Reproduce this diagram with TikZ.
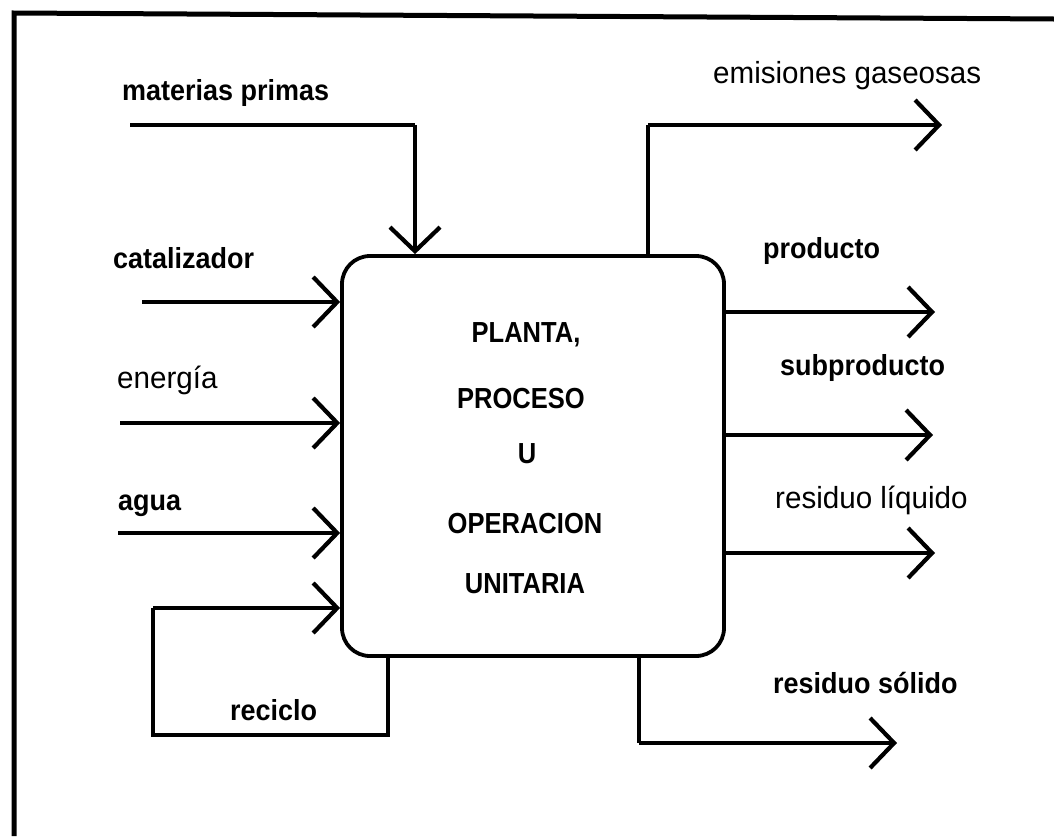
\documentclass[tikz,border=0pt]{standalone}
\usepackage{fontspec}
\setmainfont{Liberation Sans}
\newfontfamily\lblbold[FakeStretch=0.93]{Liberation Sans Bold}
\newfontfamily\lbllight[FakeStretch=0.97]{Liberation Sans}
\newfontfamily\boxfont[FakeStretch=0.88]{Liberation Sans Bold}
\usetikzlibrary{arrows.meta}

\begin{document}
\begin{tikzpicture}[x=1pt,y=-1pt,
  line cap=butt, line join=miter,
  boldlbl/.style={font={\lblbold\fontsize{29}{34}\selectfont}, anchor=base west, inner sep=0pt},
  lightlbl/.style={font={\lbllight\fontsize{30.5}{35}\selectfont}, anchor=base west, inner sep=0pt},
  boxtxt/.style={font={\boxfont\fontsize{29}{34}\selectfont}, anchor=base, inner sep=0pt},
  flow/.style={line width=3.6pt, -{Straight Barb[length=24pt,width=50pt,line width=4.2pt]}},
  pipe/.style={line width=3.6pt},
  frameline/.style={line width=5pt}
]
\useasboundingbox (0,0) rectangle (1054,836);

% outer frame (top and left edges only)
\coordinate (ftl) at (14,13);
\coordinate (ftr) at (1054,19);
\coordinate (fbl) at (14,836);
\draw[frameline] (ftr) -- (ftl) -- (fbl);

% the plant block
\node[draw, line width=3.8pt, rounded corners=28pt, minimum width=382pt, minimum height=400pt,
      inner sep=0pt] (plant) at (533,456) {};

\node[boxtxt] (t1) at (526,342) {PLANTA,};
\node[boxtxt] (t2) at (521,408) {PROCESO};
\node[boxtxt] (t3) at (527,463) {U};
\node[boxtxt] (t4) at (525,533) {OPERACION};
\node[boxtxt] (t5) at (525,593) {UNITARIA};

% labels
\node[boldlbl]  (lmp)  at (122,100) {materias primas};
\node[boldlbl]  (lcat) at (113,268) {catalizador};
\node[lightlbl] (lene) at (117,388) {energía};
\node[boldlbl]  (lagu) at (118,510) {agua};
\node[boldlbl]  (lrec) at (230,720) {reciclo};
\node[lightlbl] (lemi) at (713,83)  {emisiones gaseosas};
\node[boldlbl]  (lpro) at (763,258) {producto};
\node[boldlbl]  (lsub) at (780,375) {subproducto};
\node[lightlbl] (lliq) at (775,508) {residuo líquido};
\node[boldlbl]  (lsol) at (773,693) {residuo sólido};

% inputs
\coordinate (mpin)   at (130,125);
\coordinate (mpturn) at (415,125);
\draw[pipe] (mpin) -- (mpturn);
\draw[flow] (mpturn) -- (mpturn |- plant.north);

\coordinate (catin) at (142,302);
\draw[flow] (catin) -- (catin -| plant.west);

\coordinate (enein) at (120,423);
\draw[flow] (enein) -- (enein -| plant.west);

\coordinate (aguin) at (118,533);
\draw[flow] (aguin) -- (aguin -| plant.west);

% recycle loop
\coordinate (recdown) at (388,735);
\coordinate (recleft) at (153,735);
\coordinate (recup)   at (153,608);
\draw[pipe] (recdown |- plant.south) -- (recdown) -- (recleft) -- (recup);
\draw[flow] (recup) -- (recup -| plant.west);

% outputs
\coordinate (emiturn) at (648,125);
\coordinate (emiout)  at (942,125);
\draw[pipe] (emiturn |- plant.north) -- (emiturn);
\draw[flow] (emiturn) -- (emiout);

\coordinate (proout) at (935,312);
\draw[flow] (proout -| plant.east) -- (proout);

\coordinate (subout) at (933,435);
\draw[flow] (subout -| plant.east) -- (subout);

\coordinate (liqout) at (935,553);
\draw[flow] (liqout -| plant.east) -- (liqout);

\coordinate (solturn) at (639,743);
\coordinate (solout)  at (897,743);
\draw[pipe] (solturn |- plant.south) -- (solturn);
\draw[flow] (solturn) -- (solout);
\end{tikzpicture}
\end{document}
